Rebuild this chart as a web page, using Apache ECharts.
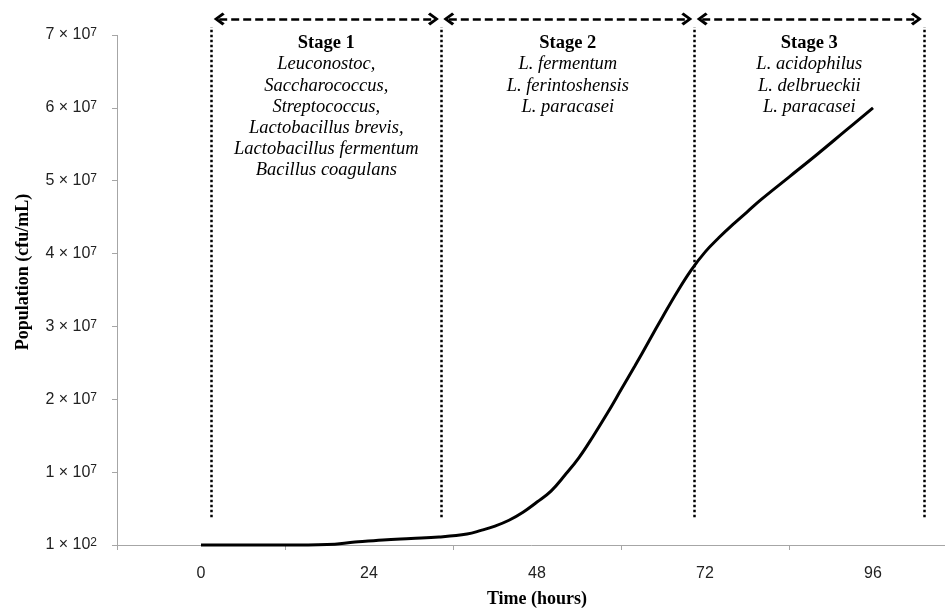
<!DOCTYPE html>
<html><head><meta charset="utf-8">
<script src="https://cdn.jsdelivr.net/npm/echarts@6/dist/echarts.min.js"></script>
<style>html,body{margin:0;padding:0;background:#fff}#c{width:945px;height:610px}</style>
</head><body><div id="c"></div>
<script>
// ---- data ----
const hours = [0, 6, 12, 18, 22, 26, 30, 34, 38, 40, 42, 44, 46, 48, 50, 52, 54, 56, 58, 60, 62, 64, 66, 68, 70, 72, 74, 76, 78, 80, 84, 88, 92, 96];
const population = [1e2, 1e2, 1e2, 7e4, 4e5, 7e5, 9e5, 1.1e6, 1.5e6, 2.0e6, 2.6e6, 3.4e6, 4.5e6, 5.9e6, 7.4e6, 9.6e6,
  1.20e7, 1.49e7, 1.80e7, 2.13e7, 2.46e7, 2.80e7, 3.14e7, 3.47e7, 3.77e7, 4.02e7, 4.22e7, 4.40e7, 4.57e7, 4.74e7,
  5.05e7, 5.36e7, 5.68e7, 6.00e7];
const xLabelHours = [0, 24, 48, 72, 96];
const xTickHours = [-12, 12, 36, 60, 84, 108];
const yTickValues = [0, 1e7, 2e7, 3e7, 4e7, 5e7, 6e7, 7e7];
const yMantissa = ['1', '1', '2', '3', '4', '5', '6', '7'];
const yExponent = ['2', '7', '7', '7', '7', '7', '7', '7'];
const stageBounds = [1.5, 34.3, 70.5, 103.3];
const stageNames = ['Stage 1', 'Stage 2', 'Stage 3'];
const stageSpecies = [
  ['Leuconostoc,', 'Saccharococcus,', 'Streptococcus,', 'Lactobacillus brevis,', 'Lactobacillus fermentum', 'Bacillus coagulans'],
  ['L. fermentum', 'L. ferintoshensis', 'L. paracasei'],
  ['L. acidophilus', 'L. delbrueckii', 'L. paracasei']
];
const xMin = -12, xMax = 108, yMax = 7.3e7, yAxisTop = 7e7;
const dotLow = 0.38e7, dotHigh = 7.11e7, arrowLevel = 7.22e7, labelTop = 7.03e7, arrowInset = 1.1;

// ---- chart ----
const SERIF = 'Liberation Serif', SANS = 'Liberation Sans';
const grey = '#a6a6a6';
const chev = 'path://M6,0L12,8L10,10L6,4.2L2,10L0,8Z';
const chart = echarts.init(document.getElementById('c'), null, {renderer: 'canvas'});
const pxPer = 72.86 / 1e7;
chart.setOption({
  animation: false,
  backgroundColor: '#fff',
  grid: {left: 117, width: 840, top: 545 - yMax * pxPer, bottom: 65, containLabel: false, outerBoundsMode: 'none'},
  xAxis: {
    type: 'value', min: xMin, max: xMax,
    name: 'Time (hours)', nameLocation: 'middle', nameGap: 45,
    nameTextStyle: {fontFamily: SERIF, fontWeight: 'bold', fontSize: 18, color: '#000'},
    axisLine: {onZero: false, lineStyle: {color: grey, width: 1}},
    axisTick: {customValues: xTickHours, length: 5, lineStyle: {color: grey}},
    axisLabel: {customValues: xLabelHours, margin: 21, fontFamily: SANS, fontSize: 16, color: '#222'},
    splitLine: {show: false}
  },
  yAxis: {
    type: 'value', min: 0, max: yMax,
    name: 'Population (cfu/mL)', nameLocation: 'middle', nameGap: 85, nameRotate: 90,
    nameTextStyle: {fontFamily: SERIF, fontWeight: 'bold', fontSize: 18, color: '#000', padding: [0, 0, 0, 14]},
    axisLine: {show: false, onZero: false},
    axisTick: {show: true, customValues: yTickValues, length: 5, lineStyle: {color: grey}},
    axisLabel: {
      customValues: yTickValues, margin: 20,
      formatter: function (v) {
        const i = yTickValues.indexOf(v);
        return '{m|' + yMantissa[i] + ' × 10}{s|' + yExponent[i] + '}';
      },
      rich: {
        m: {fontFamily: SANS, fontSize: 16, color: '#222'},
        s: {fontFamily: SANS, fontSize: 12, color: '#222', verticalAlign: 'top'}
      }
    },
    splitLine: {show: false}
  },
  series: [
    {
      type: 'line', name: 'Population', smooth: 0.4, showSymbol: false, clip: false,
      data: hours.map((h, i) => [h, population[i]]),
      lineStyle: {color: '#000', width: 3}
    },
    {
      type: 'line', name: 'yaxis', data: [], clip: false, silent: true,
      markLine: {
        silent: true, symbol: 'none', label: {show: false},
        lineStyle: {color: grey, width: 1, type: 'solid'},
        emphasis: {disabled: true},
        data: [[{coord: [xMin, 0]}, {coord: [xMin, yAxisTop]}]]
      }
    },
    {
      type: 'line', name: 'bounds', data: [], clip: false, silent: true,
      markLine: {
        silent: true, symbol: 'none', label: {show: false},
        lineStyle: {color: '#000', width: 2.5, type: [2.5, 2.5]},
        emphasis: {disabled: true},
        data: stageBounds.map(h => [{coord: [h, dotLow]}, {coord: [h, dotHigh]}])
      }
    },
    {
      type: 'line', name: 'arrows', data: [], clip: false, silent: true,
      markLine: {
        silent: true, symbol: [chev, chev], symbolSize: [13, 11], label: {show: false},
        lineStyle: {color: '#000', width: 2.5, type: [8, 4]},
        itemStyle: {color: '#000'},
        emphasis: {disabled: true},
        data: stageNames.map((n, i) => [
          {coord: [stageBounds[i] + arrowInset, arrowLevel]},
          {coord: [stageBounds[i + 1] - arrowInset, arrowLevel]}
        ])
      }
    },
    {
      type: 'line', name: 'stages', data: [], clip: false, silent: true,
      markPoint: {
        silent: true, symbol: 'circle', symbolSize: 0,
        label: {
          show: true, position: 'bottom', distance: 0, align: 'center',
          rich: {
            h: {fontFamily: SERIF, fontWeight: 'bold', fontSize: 18.5, lineHeight: 21.2, color: '#000', align: 'center'},
            i: {fontFamily: SERIF, fontStyle: 'italic', fontSize: 18.5, lineHeight: 21.2, color: '#000', align: 'center'}
          }
        },
        data: stageNames.map((n, i) => ({
          coord: [(stageBounds[i] + stageBounds[i + 1]) / 2, labelTop],
          label: {formatter: '{h|' + n + '}\n' + stageSpecies[i].map(s => '{i|' + s + '}').join('\n')}
        }))
      }
    }
  ]
});
</script></body></html>
